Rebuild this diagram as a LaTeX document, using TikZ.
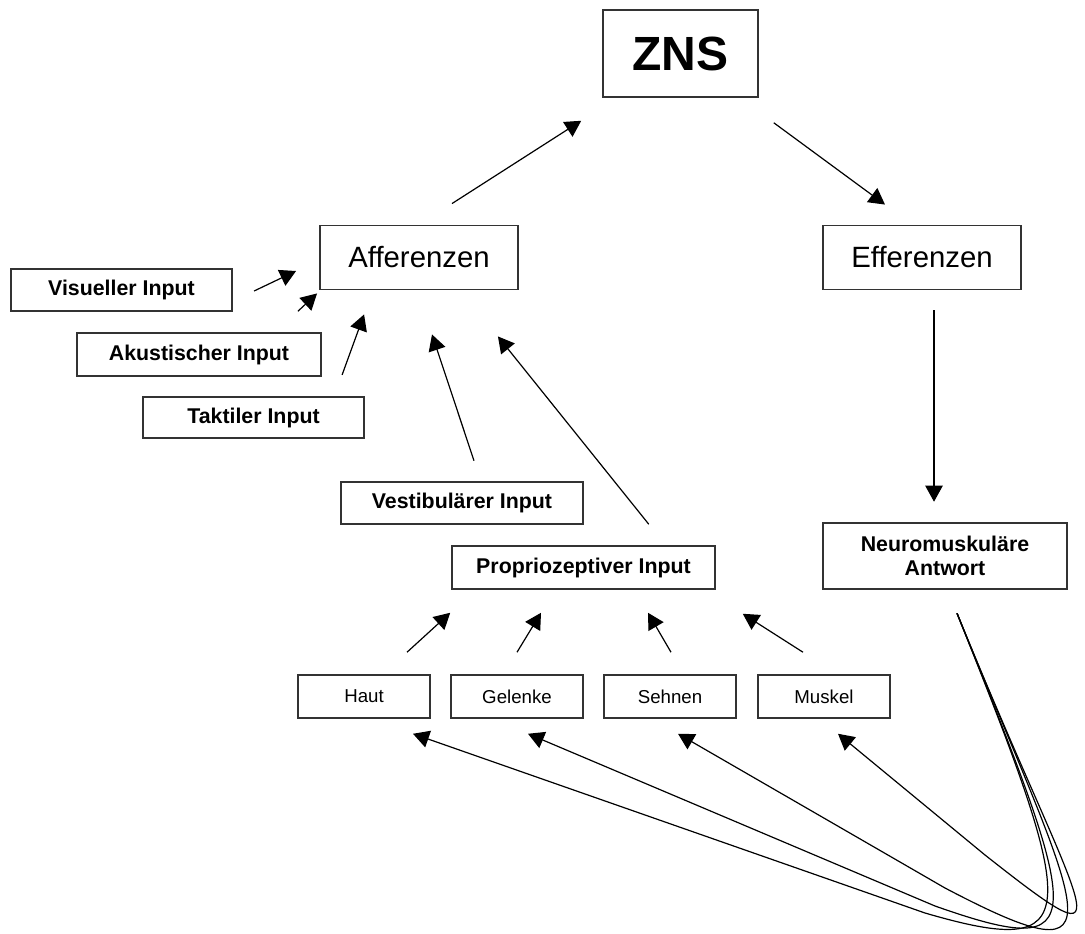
\documentclass[tikz,border=0pt]{standalone}
\usepackage{fontspec}
\setmainfont{Liberation Sans}
\usetikzlibrary{calc,arrows.meta}

\begin{document}
\begin{tikzpicture}[x=0.75pt,y=-0.75pt,
    box/.style={draw=black!80,line width=1.4pt,inner sep=0pt,align=center},
    bigbox/.style={box,font=\fontsize{22}{26}\selectfont,minimum width=148.5pt,minimum height=48pt},
    inbox/.style={box,font=\fontsize{16}{18}\bfseries\selectfont,minimum height=32pt},
    smallbox/.style={box,font=\fontsize{14}{16}\selectfont,minimum width=99pt,minimum height=32pt},
    arr/.style={-{Triangle[length=12pt,width=13pt]},line width=0.9pt}]
\useasboundingbox (0,0) rectangle (1085,934);

\node[box,font=\fontsize{36}{40}\bfseries\selectfont,minimum width=116pt,minimum height=65pt] (zns) at (680.5,53.5) {ZNS};
\node[bigbox] (aff) at (419,257.5) {Afferenzen};
\node[bigbox] (eff) at (922,257.5) {Efferenzen};

\node[inbox,minimum width=166pt] (vis) at (121.5,290) {Visueller Input};
\node[inbox,minimum width=183pt] (aku) at (199,354.5) {Akustischer Input};
\node[inbox,minimum width=166pt,minimum height=31pt] (tak) at (253.5,417.5) {Taktiler Input};
\node[inbox,minimum width=181.5pt] (ves) at (462,503) {Vestibulärer Input};
\node[inbox,minimum width=197pt] (pro) at (583.5,567.5) {Propriozeptiver Input};
\node[inbox,minimum width=183pt,minimum height=50pt] (neu) at (945,556) {Neuromuskuläre\\Antwort};

\node[smallbox] (haut) at (364,696.5) {Haut};
\node[smallbox] (gel) at (517,696.5) {Gelenke};
\node[smallbox] (seh) at (670,696.5) {Sehnen};
\node[smallbox] (mus) at (824,696.5) {Muskel};

%ZNS
\draw[arr] ($(aff.north)+(33,-21)$) -- ($(zns.south west)+(-21,23)$);
\draw[arr] ($(zns.south east)+(15,25)$) -- ($(eff.north)+(-37,-20)$);
\draw[arr] ($(eff.south)+(12,20)$) -- ($(neu.north)+(-11,-20)$);

%Afferenzen
\draw[arr] ($(vis.east)+(21,1)$) -- ($(aff.west)+(-23,13.5)$);
\draw[arr] ($(aku.north east)+(-24,-21)$) -- ($(aff.south west)+(-2,3)$);
\draw[arr] ($(tak.north east)+(-23,-21)$) -- ($(aff.south west)+(45,24)$);
\draw[arr] ($(ves.north)+(12,-20)$) -- ($(aff.south)+(13,44)$);
\draw[arr] ($(pro.north east)+(-67,-21)$) -- ($(aff.south east)+(-21,46)$);

%Propriozeptiv
\draw[arr] ($(haut.north)+(43,-22)$) -- ($(pro.south west)+(-1,23)$);
\draw[arr] ($(gel.north)+(0,-22)$) -- ($(pro.south)+(-42.5,23)$);
\draw[arr] ($(seh.north)+(1,-22)$) -- ($(pro.south)+(64.5,23)$);
\draw[arr] ($(mus.north)+(-21,-22)$) -- ($(pro.south east)+(27,24)$);

%Rueckmeldung
\coordinate (nmout) at ($(neu.south)+(12,23)$);
\draw[arr] (nmout) .. controls (1080,920) and (1086,960) .. (925,913) -- ($(haut.south)+(49,15)$);
\draw[arr] (nmout) .. controls (1084,928) and (1094,962) .. (935,906) -- ($(gel.south)+(11,15)$);
\draw[arr] (nmout) .. controls (1082,920) and (1130,985) .. (945,888) -- ($(seh.south)+(8,15)$);
\draw[arr] (nmout) .. controls (1082,920) and (1136,974) .. (985,855) -- ($(mus.south)+(14,15)$);
\end{tikzpicture}
\end{document}
